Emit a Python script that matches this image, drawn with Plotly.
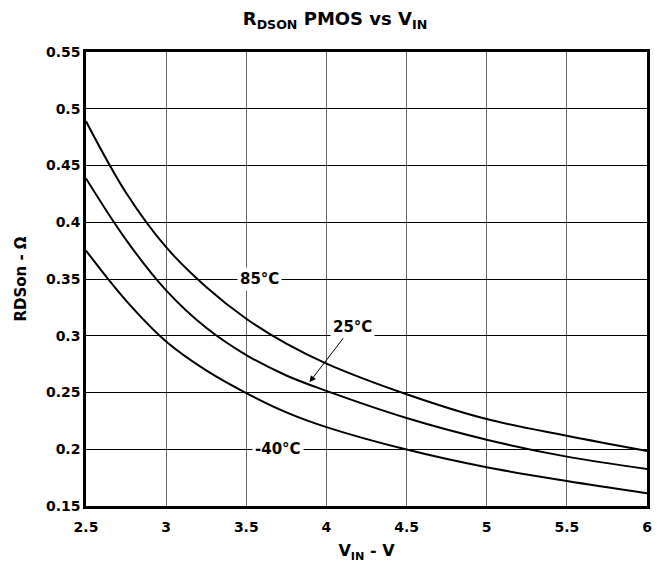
import plotly.graph_objects as go

vin = [2.5, 2.75, 3.0, 3.25, 3.5, 3.75, 4.0, 4.5, 5.0, 5.5, 6.0]
r_85 = [0.489, 0.426, 0.378, 0.343, 0.315, 0.293, 0.2755, 0.2485, 0.2266, 0.2119, 0.1985]
r_25 = [0.4386, 0.3845, 0.340, 0.307, 0.283, 0.265, 0.2514, 0.2275, 0.2084, 0.1935, 0.1827]
r_m40 = [0.375, 0.331, 0.295, 0.2695, 0.2495, 0.2325, 0.2195, 0.1997, 0.1841, 0.1720, 0.1613]

x_ticks = [2.5, 3, 3.5, 4, 4.5, 5, 5.5, 6]
x_ticklabels = ["2.5", "3", "3.5", "4", "4.5", "5", "5.5", "6"]
y_ticks = [0.15, 0.2, 0.25, 0.3, 0.35, 0.4, 0.45, 0.5, 0.55]
y_ticklabels = ["0.15", "0.2", "0.25", "0.3", "0.35", "0.4", "0.45", "0.5", "0.55"]

FONT = "'DejaVu Sans', Arial, sans-serif"

fig = go.Figure()
for name, ys in [("85°C", r_85), ("25°C", r_25), ("-40°C", r_m40)]:
    fig.add_trace(go.Scatter(x=vin, y=ys, mode="lines", name=name,
                             line=dict(color="black", width=2, shape="spline", smoothing=1),
                             showlegend=False, hoverinfo="skip"))

fig.update_layout(
    width=660, height=570,
    margin=dict(l=86, r=8, t=52, b=64),
    paper_bgcolor="white", plot_bgcolor="white",
    font=dict(family=FONT, color="black"),
    title=dict(text="<b>R<sub>DSON</sub> PMOS vs V<sub>IN</sub></b>",
               x=335 / 660, xref="container", xanchor="center",
               y=1 - 19 / 570, yref="container", yanchor="middle",
               font=dict(size=18, family=FONT)),
    xaxis=dict(range=[2.5, 6], tickvals=x_ticks, ticktext=[f"<b>{t}</b>" for t in x_ticklabels],
               showgrid=True, gridcolor="#666666", gridwidth=1.2,
               showline=True, linecolor="black", linewidth=2.5, mirror=True,
               ticks="", tickfont=dict(size=14), zeroline=False, ticklabelstandoff=6,
               title=dict(text="<b>V<sub>IN</sub> - V</b>", font=dict(size=16), standoff=12)),
    yaxis=dict(range=[0.15, 0.55], tickvals=y_ticks, ticktext=[f"<b>{t}</b>" for t in y_ticklabels],
               showgrid=True, gridcolor="black", gridwidth=1,
               showline=True, linecolor="black", linewidth=2.5, mirror=True,
               ticks="", tickfont=dict(size=14), zeroline=False,
               title=dict(text="<b>RDSon - Ω</b>", font=dict(size=15), standoff=16)),
)

fig.add_annotation(x=3.58, y=0.35, text="<b>85°C</b>", showarrow=False,
                   bgcolor="white", borderpad=2, font=dict(size=15, family=FONT),
                   xref="x", yref="y")
fig.add_annotation(x=3.70, y=0.20, text="<b>-40°C</b>", showarrow=False,
                   bgcolor="white", borderpad=2, font=dict(size=15, family=FONT),
                   xref="x", yref="y")
fig.add_annotation(x=3.894, y=0.259, ax=4.16, ay=0.308, axref="x", ayref="y",
                   text="<b>25°C</b>", showarrow=True, arrowhead=2, arrowsize=1.3,
                   arrowwidth=1, arrowcolor="black", standoff=0,
                   bgcolor="white", borderpad=2, font=dict(size=15, family=FONT),
                   xref="x", yref="y")

fig.write_html("out.html", config={"displayModeBar": False},
               post_script="document.body.style.margin='0';")
